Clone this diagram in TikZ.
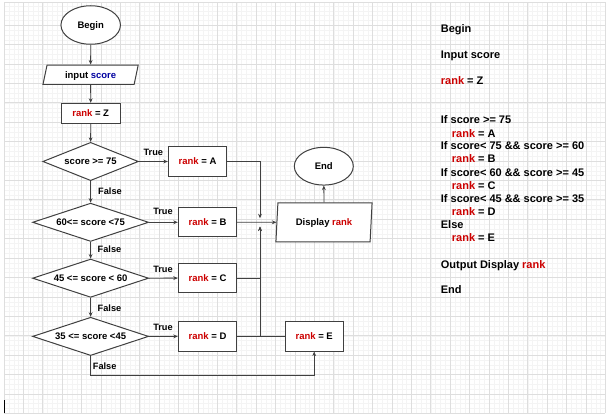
\documentclass[tikz,border=0pt]{standalone}
\usepackage{fontspec}
\setmainfont{Liberation Sans}
\usetikzlibrary{shapes.geometric,arrows.meta}
\definecolor{rk}{RGB}{204,0,0}
\definecolor{sc}{RGB}{0,0,160}
\definecolor{edge}{RGB}{64,64,64}
\definecolor{gmaj}{RGB}{222,222,222}
\definecolor{gmin}{RGB}{244,244,244}
\newcommand{\rk}{\textcolor{rk}{rank}}
\begin{document}
\begin{tikzpicture}[x=1pt,y=-1pt,
  every node/.style={font=\fontsize{9.5}{11}\selectfont\bfseries, inner sep=0pt, text height=6.8pt, text depth=0pt},
  shp/.style={draw=edge, line width=1pt, fill=white},
  boxn/.style={shp, rectangle, minimum width=58.4pt, minimum height=29.3pt},
  dia/.style={shp, diamond, shape aspect=3.5, minimum width=116pt, minimum height=38.3pt},
  ell/.style={shp, ellipse, minimum width=59.5pt, minimum height=38.5pt},
  para/.style={shp, trapezium, trapezium stretches=true},
  conn/.style={draw=edge, line width=0.8pt, -{Stealth[length=4.5pt,width=3.8pt]}},
  wire/.style={draw=edge, line width=0.8pt},
  lbl/.style={font=\fontsize{9.2}{11}\selectfont\bfseries},
  ps/.style={anchor=base west, font=\fontsize{11}{13}\selectfont\bfseries, text height=, text depth=}
]
\useasboundingbox (0,0) rectangle (609,419);
\fill[white] (0,0) rectangle (609,419);
% grid
\foreach \i in {0,...,123} \draw[gmin, line width=0.4pt] ({4+4.85*\i},2.5) -- ({4+4.85*\i},413.3);
\foreach \j in {0,...,84} \draw[gmin, line width=0.4pt] (4,{413.3-4.85*\j}) -- (605.4,{413.3-4.85*\j});
\foreach \i in {0,...,31} \draw[gmaj, line width=0.8pt] ({4+19.4*\i},2.5) -- ({4+19.4*\i},413.3);
\foreach \j in {0,...,20} \draw[gmaj, line width=0.8pt] (4,{413.3-19.4*\j}) -- (605.4,{413.3-19.4*\j});
\draw[gmaj, line width=0.8pt] (4,2.5) -- (605.4,2.5);
\draw[black, line width=1pt] (4.5,400) -- (4.5,413);
% nodes
\node[ell] (begin) at (90.7,25) {Begin};
\node[para, trapezium left angle=70.6, trapezium right angle=109.4, minimum width=95.6pt, minimum height=19.3pt] (input) at (90.6,74.7) {input \textcolor{sc}{score}};
\node[shp, rectangle, minimum width=59pt, minimum height=20pt] (rz) at (90.7,113.3) {\rk{} = Z};
\node[dia, minimum width=95.6pt] (d1) at (90.6,161.5) {score >= 75};
\node[dia] (d2) at (90.6,222.3) {60<= score <75};
\node[dia] (d3) at (90.6,278.2) {45 <= score < 60};
\node[dia] (d4) at (90.6,336.4) {35 <= score <45};
\node[boxn] (ra) at (197.5,161.5) {\rk{} = A};
\node[boxn] (rb) at (207.5,222.3) {\rk{} = B};
\node[boxn] (rc) at (207.5,278.1) {\rk{} = C};
\node[boxn] (rd) at (207.5,336.4) {\rk{} = D};
\node[boxn] (re) at (314.2,336.4) {\rk{} = E};
\node[para, trapezium left angle=79.8, trapezium right angle=100.2, minimum width=96.6pt, minimum height=39pt] (disp) at (324,222.3) {Display \rk};
\node[ell, minimum width=59pt, minimum height=37.7pt] (end) at (323.8,166.2) {End};
% labels
\node[lbl] (t1) at (153.3,152) {True};
\node[lbl] (t2) at (163,210.7) {True};
\node[lbl] (t3) at (163,269) {True};
\node[lbl] (t4) at (163,327.3) {True};
\node[lbl] (f1) at (110,191) {False};
\node[lbl] (f2) at (109.5,249.3) {False};
\node[lbl] (f3) at (109.5,307.7) {False};
\node[lbl] (f4) at (104.7,365.7) {False};
% connectors
\coordinate (jx) at (260,300);
\coordinate (ta) at (260,218.3);
\coordinate (tb) at (260,226.5);
\coordinate (fb) at (90.6,375);
\draw[conn] (begin.south) -- (input.north);
\draw[conn] (input.south) -- (rz.north);
\draw[conn] (rz.south) -- (d1.north);
\draw[conn] (d1.south) -- (d2.north);
\draw[conn] (d2.south) -- (d3.north);
\draw[conn] (d3.south) -- (d4.north);
\draw[conn] (d1.east) -- (ra.west);
\draw[conn] (d2.east) -- (rb.west);
\draw[conn] (d3.east) -- (rc.west);
\draw[conn] (d4.east) -- (rd.west);
\draw[conn] (ra.east) -| (ta);
\draw[conn] (rc.east) -| (tb);
\draw[wire] (rd.east) -- (re.west);
\draw[conn] (rd.east -| jx) -- (tb);
\draw[conn] (rb.east) -- (disp.west);
\draw[conn] (disp.north) -- (end.south);
\draw[conn] (d4.south) -- (fb) -| (re.south);
% pseudo code
\node[ps] (p1) at (440.7,32.2) {Begin};
\node[ps] (p2) at (440.7,58.2) {Input score};
\node[ps] (p3) at (440.7,84.6) {\rk{} = Z};
\node[ps] (p4) at (440.7,123.9) {If score >= 75};
\node[ps] (p5) at (451.7,137.2) {\rk{} = A};
\node[ps] (p6) at (440.7,149.9) {If score< 75 \&\& score >= 60};
\node[ps] (p7) at (451.7,162.9) {\rk{} = B};
\node[ps] (p8) at (440.7,176.2) {If score< 60 \&\& score >= 45};
\node[ps] (p9) at (451.7,189.2) {\rk{} = C};
\node[ps] (p10) at (440.7,202.6) {If score< 45 \&\& score >= 35};
\node[ps] (p11) at (451.7,215.2) {\rk{} = D};
\node[ps] (p12) at (440.7,228.2) {Else};
\node[ps] (p13) at (451.7,241.6) {\rk{} = E};
\node[ps] (p14) at (440.7,268.2) {Output Display \rk};
\node[ps] (p15) at (440.7,293.9) {End};
\end{tikzpicture}
\end{document}
